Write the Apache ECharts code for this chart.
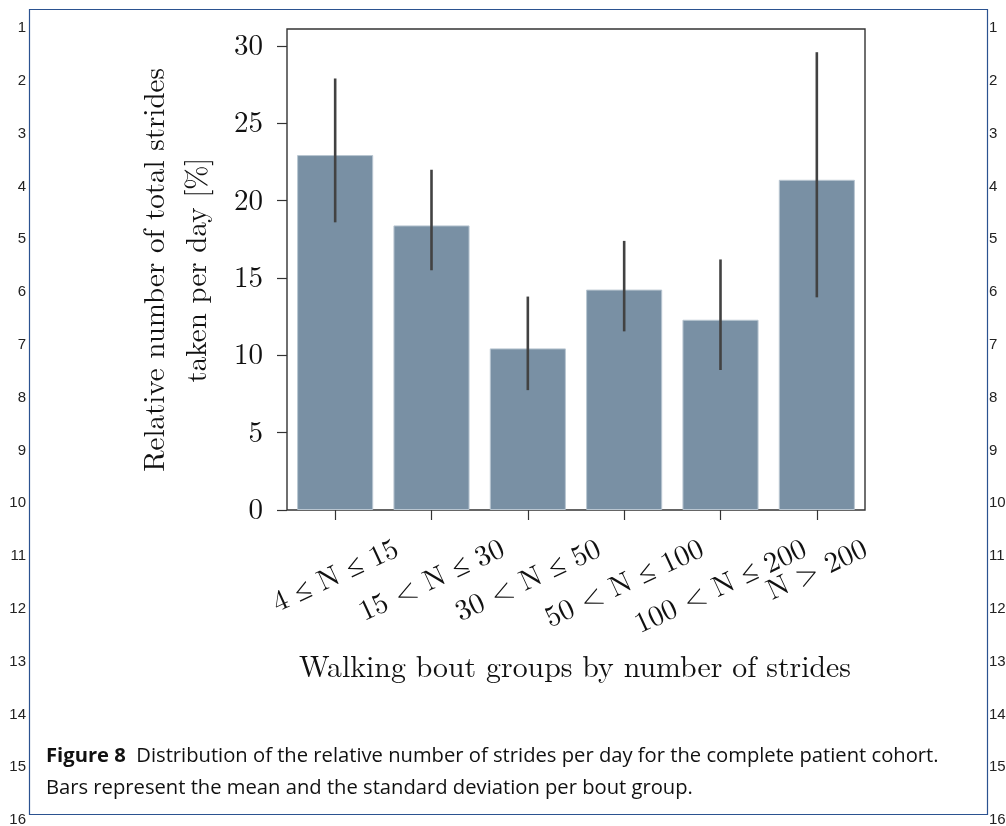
<!DOCTYPE html>
<html>
<head>
<meta charset="utf-8">
<script src="https://cdn.jsdelivr.net/npm/echarts@6/dist/echarts.min.js"></script>
<style>
html,body{margin:0;padding:0;background:#fff;}
#chart{width:1006px;height:826px;}
</style>
</head>
<body>
<div id="chart"></div>
<script>
// ---- data ----
const categories = ['4 \u2264 N \u2264 15', '15 < N \u2264 30', '30 < N \u2264 50', '50 < N \u2264 100', '100 < N \u2264 200', 'N > 200'];
const meanValues = [22.95, 18.4, 10.45, 14.25, 12.3, 21.35];
const errLow = [18.6, 15.5, 7.75, 11.55, 9.05, 13.75];
const errHigh = [27.9, 22.0, 13.8, 17.4, 16.2, 29.6];
const yTicks = [0, 5, 10, 15, 20, 25, 30];
const lineNumbers = [1,2,3,4,5,6,7,8,9,10,11,12,13,14,15,16];
const captionBold = 'Figure 8';
const captionLine1 = 'Distribution of the relative number of strides per day for the complete patient cohort.';
const captionLine2 = 'Bars represent the mean and the standard deviation per bout group.';
const yTitle = 'Relative number of total strides\ntaken per day [%]';
const xTitle = 'Walking bout groups by number of strides';

// ---- styling / layout ----
const SERIF = '"Latin Modern Roman","CMU Serif","Liberation Serif","Times New Roman",serif';
const SANS = '"Liberation Sans","DejaVu Sans",sans-serif';
const CAPSANS = '"Open Sans","Liberation Sans",sans-serif';
const CAPFS = 20.2;
const FS = 29;
const ROT = 25;
const th = ROT * Math.PI / 180;

// measure label widths to mimic matplotlib's rotated bbox (centered, top aligned)
const cv = document.createElement('canvas').getContext('2d');
cv.font = FS + 'px ' + SERIF;
const widths = categories.map(c => cv.measureText(c).width);
const wMin = Math.min.apply(null, widths);
const rich = {};
categories.forEach((c, i) => {
  const d = (widths[i] - wMin) * Math.sin(th) / 2;
  rich['l' + i] = {
    fontFamily: SERIF, fontSize: FS, color: '#111',
    padding: [2 * d * Math.cos(th), 2 * d * Math.sin(th), 0, 0]
  };
});
const labelMargin = 27 + (wMin * Math.sin(th) + 22 * Math.cos(th)) / 2;

const chart = echarts.init(document.getElementById('chart'), null, {renderer: 'canvas'});

const graphics = [];
graphics.push({
  type: 'rect', shape: {x: 29.5, y: 9.5, width: 958, height: 805},
  style: {fill: 'none', stroke: '#2b5290', lineWidth: 1.2}, silent: true
});
lineNumbers.forEach((n, i) => {
  const y = 28 + i * 52.8;
  graphics.push({type: 'text', x: 26, y: y, style: {text: String(n), font: '15px ' + SANS, fill: '#222', align: 'right', verticalAlign: 'middle'}});
  graphics.push({type: 'text', x: 989, y: y, style: {text: String(n), font: '15px ' + SANS, fill: '#222', align: 'left', verticalAlign: 'middle'}});
});
graphics.push({
  type: 'text', x: 46, y: 756,
  style: {
    text: '{b|' + captionBold + '}  ' + captionLine1,
    font: CAPFS + 'px ' + CAPSANS, fill: '#111', verticalAlign: 'middle',
    rich: {b: {fontFamily: CAPSANS, fontSize: CAPFS, fontWeight: 'bold', fill: '#111'}}
  }
});
graphics.push({
  type: 'text', x: 46, y: 788,
  style: {text: captionLine2, font: CAPFS + 'px ' + CAPSANS, fill: '#111', verticalAlign: 'middle'}
});
graphics.push({
  type: 'text', x: 575, y: 668,
  style: {text: xTitle, font: '29.8px ' + SERIF, fill: '#111', align: 'center', verticalAlign: 'middle'}
});
graphics.push({
  type: 'text', x: 176, y: 270, rotation: Math.PI / 2,
  style: {text: yTitle, font: FS + 'px ' + SERIF, fill: '#111', align: 'center', verticalAlign: 'middle', lineHeight: 42}
});

chart.setOption({
  animation: false,
  backgroundColor: '#fff',
  grid: {left: 287, top: 29, right: 141, bottom: 316, show: true, borderColor: '#333', borderWidth: 1.4, backgroundColor: '#fff'},
  xAxis: {
    type: 'category',
    data: categories,
    axisLine: {show: false},
    axisTick: {show: true, alignWithLabel: true, length: 10, lineStyle: {color: '#333', width: 1.2}},
    axisLabel: {
      interval: 0, rotate: ROT, align: 'center', verticalAlign: 'middle', margin: labelMargin,
      formatter: (v, i) => '{l' + i + '|' + v + '}',
      rich: rich
    },
    splitLine: {show: false}
  },
  yAxis: {
    type: 'value', min: 0, max: 31.1,
    axisLine: {show: false},
    axisTick: {show: true, length: 10, customValues: yTicks, lineStyle: {color: '#333', width: 1.2}},
    axisLabel: {customValues: yTicks, margin: 24, fontFamily: SERIF, fontSize: FS, color: '#111'},
    splitLine: {show: false}
  },
  series: [
    {
      type: 'bar', data: meanValues, barCategoryGap: '21%',
      itemStyle: {color: '#7990a4', borderColor: '#b9c6d1', borderWidth: 1},
      z: 2
    },
    {
      type: 'custom',
      data: categories.map((c, i) => [i, errLow[i], errHigh[i]]),
      encode: {x: 0, y: [1, 2]},
      renderItem: function (params, api) {
        const p1 = api.coord([api.value(0), api.value(1)]);
        const p2 = api.coord([api.value(0), api.value(2)]);
        return {type: 'line', shape: {x1: p1[0], y1: p1[1], x2: p2[0], y2: p2[1]},
          style: {stroke: '#424242', lineWidth: 2.6}};
      },
      z: 3
    }
  ],
  graphic: graphics
});
</script>
</body>
</html>
